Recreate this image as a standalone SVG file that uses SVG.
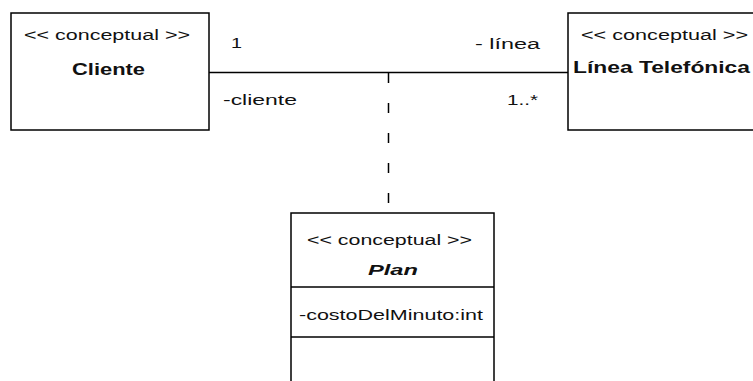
<svg xmlns="http://www.w3.org/2000/svg" width="753" height="381" viewBox="0 0 753 381">
<style>
.box{fill:#fff;stroke:#000;stroke-width:1.5}
.t{font-family:"Liberation Sans",Arial,sans-serif;fill:#111;font-size:14px}
.b{font-weight:bold;font-size:16px}
.bi{font-weight:bold;font-style:italic;font-size:15px}
.ln{stroke:#000;stroke-width:1.5;fill:none}
.dash{stroke:#000;stroke-width:1.5;fill:none;stroke-dasharray:10 20}
</style>
<rect width="753" height="381" fill="#fff"/>
<g id="connectors">
<line class="ln" x1="209" y1="72.5" x2="568" y2="72.5"/>
<line class="dash" x1="388.5" y1="73" x2="388.5" y2="213"/>
<text class="t" x="231" y="48" textLength="11" lengthAdjust="spacingAndGlyphs">1</text>
<text class="t" x="223" y="105" textLength="74" lengthAdjust="spacingAndGlyphs">-cliente</text>
<text class="t" x="475" y="49" textLength="65" lengthAdjust="spacingAndGlyphs">- línea</text>
<text class="t" x="507" y="105" textLength="31" lengthAdjust="spacingAndGlyphs">1..*</text>
</g>
<g id="cliente">
<rect class="box" x="11" y="13" width="198" height="117"/>
<text class="t" x="24" y="40" textLength="166" lengthAdjust="spacingAndGlyphs">&lt;&lt; conceptual &gt;&gt;</text>
<text class="t b" x="72" y="75" textLength="73" lengthAdjust="spacingAndGlyphs">Cliente</text>
</g>
<g id="linea">
<rect class="box" x="568" y="13" width="200" height="117"/>
<text class="t" x="581" y="40" textLength="167" lengthAdjust="spacingAndGlyphs">&lt;&lt; conceptual &gt;&gt;</text>
<text class="t b" x="573" y="73" textLength="177" lengthAdjust="spacingAndGlyphs">Línea Telefónica</text>
</g>
<g id="plan">
<rect class="box" x="291" y="213" width="203" height="180"/>
<line class="ln" x1="291" y1="287" x2="494" y2="287"/>
<line class="ln" x1="291" y1="337" x2="494" y2="337"/>
<text class="t" x="307" y="245" textLength="165" lengthAdjust="spacingAndGlyphs">&lt;&lt; conceptual &gt;&gt;</text>
<text class="t bi" x="368" y="275" textLength="50" lengthAdjust="spacingAndGlyphs">Plan</text>
<text class="t" x="299" y="320" textLength="184" lengthAdjust="spacingAndGlyphs">-costoDelMinuto:int</text>
</g>
</svg>
